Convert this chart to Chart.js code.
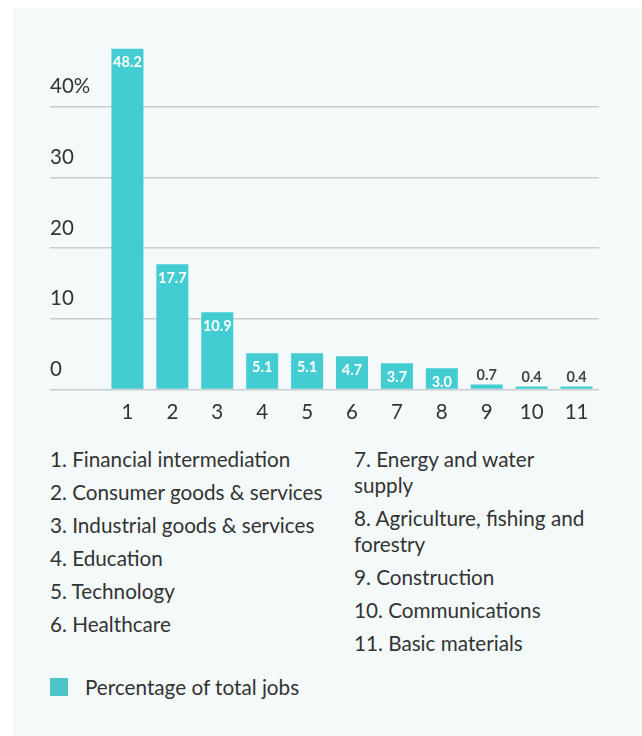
<!DOCTYPE html>
<html>
<head>
<meta charset="utf-8">
<script src="https://cdn.jsdelivr.net/npm/chart.js@4"></script>
<style>
  html, body { margin: 0; padding: 0; background: #ffffff; }
  body { width: 642px; height: 736px; position: relative; overflow: hidden; font-family: Lato, sans-serif; color: #333333; }
  #panel { position: absolute; left: 13px; top: 8px; width: 629px; height: 728px; background: #f4fafa; }
  #graficoempleos { position: absolute; left: 0; top: 0; }
  .lista { position: absolute; top: 446px; margin: 0; padding: 0; list-style: none; font-size: 20.7px; line-height: 26px; }
  .lista li { margin-bottom: 7px; }
  #lista1 { left: 50px; width: 295px; }
  #lista2 { left: 354px; width: 234px; }
  #leyenda { position: absolute; left: 50px; top: 674px; font-size: 20.7px; line-height: 26px; display: flex; align-items: center; }
  #leyenda span.caja { width: 18px; height: 18px; margin-right: 17px; display: inline-block; }
</style>
</head>
<body>
<div id="panel"></div>
<canvas id="graficoempleos" width="642" height="445"></canvas>
<ul class="lista" id="lista1"></ul>
<ul class="lista" id="lista2"></ul>
<div id="leyenda"></div>

<script>
// sectores y porcentaje de empleos
const sectores = [
  "Financial intermediation",
  "Consumer goods & services",
  "Industrial goods & services",
  "Education",
  "Technology",
  "Healthcare",
  "Energy and water supply",
  "Agriculture, fishing and forestry",
  "Construction",
  "Communications",
  "Basic materials"
];
const numeros = ["1", "2", "3", "4", "5", "6", "7", "8", "9", "10", "11"];
const porcentajes = [48.2, 17.7, 10.9, 5.1, 5.1, 4.7, 3.7, 3.0, 0.7, 0.4, 0.4];
const valoresEje = [0, 10, 20, 30, 40];
const etiquetasEje = ["0", "10", "20", "30", "40%"];
const nombreSerie = "Percentage of total jobs";

const colorBarra = "#43cdd2";

// lista numerada en dos columnas
sectores.forEach((s, i) => {
  const li = document.createElement("li");
  li.textContent = `${numeros[i]}. ${s}`;
  document.getElementById(i < 6 ? "lista1" : "lista2").appendChild(li);
});

// etiquetas del eje y, encima de cada linea
const ejeYTexto = {
  id: "ejeYTexto",
  afterDraw(chart) {
    const { ctx, scales, chartArea } = chart;
    ctx.save();
    ctx.font = "20.5px Lato";
    ctx.fillStyle = "#333333";
    ctx.textAlign = "left";
    ctx.textBaseline = "middle";
    valoresEje.forEach((v, i) => {
      const y = scales.y.getPixelForValue(v);
      ctx.fillText(etiquetasEje[i], chartArea.left - 55, y - 20);
    });
    ctx.restore();
  }
};

// valores sobre las barras
const valoresBarras = {
  id: "valoresBarras",
  afterDatasetsDraw(chart) {
    const { ctx } = chart;
    const meta = chart.getDatasetMeta(0);
    ctx.save();
    ctx.font = "bold 14.5px Lato";
    ctx.textAlign = "center";
    ctx.textBaseline = "middle";
    meta.data.forEach((bar, i) => {
      const v = porcentajes[i];
      if (v >= 3) {
        ctx.fillStyle = "#ffffff";
        ctx.fillText(v.toFixed(1), bar.x, bar.y + 14);
      } else {
        ctx.fillStyle = "#444444";
        ctx.fillText(v.toFixed(1), bar.x, bar.y - 9);
      }
    });
    ctx.restore();
  }
};

const grafico = new Chart(document.getElementById("graficoempleos"), {
  type: "bar",
  data: {
    labels: numeros,
    datasets: [
      {
        label: nombreSerie,
        data: porcentajes,
        backgroundColor: colorBarra,
        categoryPercentage: 1,
        barPercentage: 0.713
      }
    ]
  },
  options: {
    responsive: false,
    animation: false,
    layout: { padding: { left: 50, right: 43, top: 36, bottom: 9 } },
    plugins: { legend: { display: false }, tooltip: { enabled: false } },
    scales: {
      x: {
        grid: { display: false, drawTicks: false },
        border: { display: false },
        ticks: { color: "#333333", font: { family: "Lato", size: 20.5 }, padding: 11 }
      },
      y: {
        min: 0,
        max: 50,
        grid: {
          color: (c) => (c.tick && c.tick.value === 50 ? "rgba(0,0,0,0)" : "#cccccc"),
          lineWidth: 1.5,
          drawTicks: true,
          tickLength: 55
        },
        border: { display: false },
        ticks: { display: false, stepSize: 10 }
      }
    }
  },
  plugins: [ejeYTexto, valoresBarras]
});

// leyenda
const leyenda = document.getElementById("leyenda");
leyenda.innerHTML = `<span class="caja" style="background:#4fc4c8"></span>${grafico.data.datasets[0].label}`;
</script>
</body>
</html>
